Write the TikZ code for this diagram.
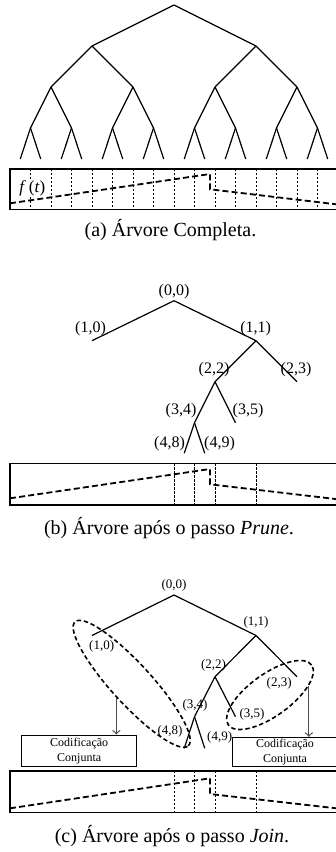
\documentclass[tikz,border=0pt]{standalone}
\usepackage{fontspec}
\setmainfont{Liberation Serif}
\usetikzlibrary{shapes,arrows}

\begin{document}
\begin{tikzpicture}[x=0.5pt,y=-0.5pt,
  ramo/.style={line width=0.6pt},
  moldura/.style={draw, line width=0.6pt},
  sinal/.style={line width=0.9pt, dash pattern=on 3pt off 1.6pt},
  divisa/.style={line width=0.5pt, dash pattern=on 1.2pt off 0.8pt},
  rotb/.style={font=\fontsize{8}{9}\selectfont, inner sep=0pt},
  rotc/.style={font=\fontsize{6.5}{7.5}\selectfont, inner sep=0pt},
  legenda/.style={font=\fontsize{10}{12}\selectfont, inner sep=0pt},
  grupo/.style={draw, ellipse, line width=0.8pt, dash pattern=on 2.2pt off 1.4pt, inner sep=0pt},
  caixa/.style={draw, line width=0.5pt, align=center, inner sep=0pt, font=\fontsize{6}{7.5}\selectfont},
  seta/.style={->, line width=0.6pt, black!70}]
\useasboundingbox (0,0) rectangle (336,852);

% (a) arvore completa
\foreach \l/\yy in {0/5,1/46,2/87,3/128,4/159} {
  \pgfmathtruncatemacro\n{2^\l-1}
  \foreach \k in {0,...,\n}
    \coordinate (a-\l-\k) at ({10+328*(\k+0.5)/2^\l},\yy);
}
\foreach \l in {1,...,4} {
  \pgfmathtruncatemacro\n{2^\l-1}
  \pgfmathtruncatemacro\q{\l-1}
  \foreach \k in {0,...,\n} {
    \pgfmathtruncatemacro\p{floor(\k/2)}
    \draw[ramo] (a-\q-\p) -- (a-\l-\k);
  }
}
\draw[moldura] (10,169) rectangle (338,209.5);
\foreach \k in {1,...,15}
  \draw[divisa] ({10+20.5*\k},169) -- ({10+20.5*\k},209.5);
\draw[sinal] (10,203.3) -- (210,174) -- (210,189.3) -- (338,204.5); % f(t)
\node[font=\fontsize{8.5}{10}\selectfont, fill=white, inner sep=0.5pt] (ft) at (32.3,188) {\textit{f}\,(\textit{t})};
\node[legenda] (capa) at (170.5,230) {(a) Árvore Completa.};

% (b) apos o passo Prune
\foreach \l/\k/\yy in {0/0/300.7,1/0/340.7,1/1/340.7,2/2/381.7,2/3/381.7,3/4/422.7,3/5/422.7,4/8/453.3,4/9/453.3}
  \coordinate (b-\l-\k) at ({10+328*(\k+0.5)/2^\l},\yy);
\foreach \p/\c in {0-0/1-0,0-0/1-1,1-1/2-2,1-1/2-3,2-2/3-4,2-2/3-5,3-4/4-8,3-4/4-9}
  \draw[ramo] (b-\p) -- (b-\c);
\node[rotb] (lb-0-0) at (174,291.7) {(0,0)};
\node[rotb] (lb-1-0) at (90.5,328.3) {(1,0)};
\node[rotb] (lb-1-1) at (255.7,328.3) {(1,1)};
\node[rotb] (lb-2-2) at (214,369.3) {(2,2)};
\node[rotb] (lb-2-3) at (296,369.3) {(2,3)};
\node[rotb] (lb-3-4) at (181,410.7) {(3,4)};
\node[rotb] (lb-3-5) at (248,410.7) {(3,5)};
\node[rotb] (lb-4-8) at (169.5,443.3) {(4,8)};
\node[rotb] (lb-4-9) at (219.5,443.3) {(4,9)};
\draw[moldura] (10,463.3) rectangle (338,505);
\foreach \x in {174,194.5,215,256}
  \draw[divisa] (\x,463.3) -- (\x,505);
\draw[sinal] (10,498.3) -- (210,469) -- (210,484.3) -- (338,499.3);
\node[legenda] (capb) at (169,528.3) {(b) Árvore após o passo \textit{Prune}.};

% (c) apos o passo Join
\foreach \l/\k/\yy in {0/0/595,1/0/635.5,1/1/635.5,2/2/676.7,2/3/676.7,3/4/716.7,3/5/716.7,4/8/748.3,4/9/748.3}
  \coordinate (c-\l-\k) at ({10+328*(\k+0.5)/2^\l},\yy);
\foreach \p/\c in {0-0/1-0,0-0/1-1,1-1/2-2,1-1/2-3,2-2/3-4,2-2/3-5,3-4/4-8,3-4/4-9}
  \draw[ramo] (c-\p) -- (c-\c);
\node[rotc] (lc-0-0) at (174,585.5) {(0,0)};
\node[rotc] (lc-1-0) at (101.7,646.5) {(1,0)};
\node[rotc] (lc-1-1) at (256,622.7) {(1,1)};
\node[rotc] (lc-2-2) at (213.5,665) {(2,2)};
\node[rotc] (lc-2-3) at (279.2,683.3) {(2,3)};
\node[rotc] (lc-3-4) at (195,705) {(3,4)};
\node[rotc] (lc-3-5) at (252,714.5) {(3,5)};
\node[rotc] (lc-4-8) at (170,731) {(4,8)};
\node[rotc] (lc-4-9) at (219.7,737.3) {(4,9)};
\node[grupo, rotate=-47.6, minimum width=84pt, minimum height=20pt] (grupoA) at (131.7,683.8) {};
\node[grupo, rotate=35.8, minimum width=51.3pt, minimum height=21pt] (grupoB) at (270,695) {};
\node[caixa, minimum width=57.5pt, minimum height=15.8pt] (codA) at (79.2,750.8) {Codificação\\Conjunta};
\node[caixa, minimum width=52.3pt, minimum height=14.4pt] (codB) at (285,751.7) {Codificação\\Conjunta};
\draw[seta] (grupoA.south) -- (grupoA.south |- codA.north);
\draw[seta] (grupoB.south east) -- (grupoB.south east |- codB.north);
\draw[moldura] (10,771) rectangle (338,812.7);
\foreach \x in {174,194.5,215,256}
  \draw[divisa] (\x,771) -- (\x,812.7);
\draw[sinal] (10,808.3) -- (210,778.3) -- (210,794) -- (338,808.5);
\node[legenda] (capc) at (172,836) {(c) Árvore após o passo \textit{Join}.};
\end{tikzpicture}
\end{document}
